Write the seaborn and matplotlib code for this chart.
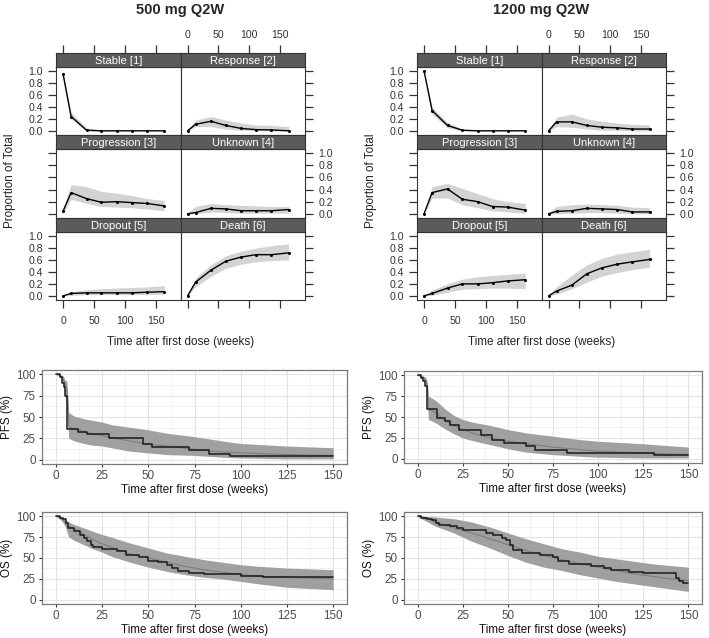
import numpy as np
import matplotlib
matplotlib.use("Agg")
import matplotlib.pyplot as plt
import seaborn as sns

# CONFIG
sns.set_theme(style="ticks")
plt.rcParams['font.family'] = ['Liberation Sans', 'DejaVu Sans']

W, H = 709, 638

# 1. STATE PROPORTIONS (lattice panels)
states = ["Stable [1]", "Response [2]", "Progression [3]",
          "Unknown [4]", "Dropout [5]", "Death [6]"]
weeks = [0, 13, 38, 62, 87, 111, 136, 164]

obs_500 = [
    [0.95, 0.24, 0.01, 0.0, 0.0, 0.0, 0.0, 0.0],
    [0.0, 0.11, 0.16, 0.09, 0.04, 0.02, 0.015, 0.0],
    [0.045, 0.35, 0.25, 0.19, 0.20, 0.185, 0.17, 0.13],
    [0.0, 0.02, 0.09, 0.08, 0.05, 0.05, 0.05, 0.07],
    [0.0, 0.04, 0.05, 0.05, 0.05, 0.05, 0.06, 0.07],
    [0.0, 0.23, 0.43, 0.58, 0.65, 0.69, 0.69, 0.72],
]
lo_500 = [
    [0.93, 0.20, 0.0, 0.0, 0.0, 0.0, 0.0, 0.0],
    [0.0, 0.07, 0.07, 0.03, 0.01, 0.0, 0.0, 0.0],
    [0.0, 0.24, 0.17, 0.12, 0.11, 0.10, 0.08, 0.05],
    [0.0, 0.0, 0.03, 0.02, 0.01, 0.01, 0.01, 0.01],
    [0.0, 0.01, 0.02, 0.02, 0.02, 0.02, 0.02, 0.03],
    [0.0, 0.15, 0.33, 0.46, 0.53, 0.57, 0.59, 0.60],
]
hi_500 = [
    [0.97, 0.31, 0.05, 0.01, 0.0, 0.0, 0.0, 0.0],
    [0.02, 0.18, 0.24, 0.18, 0.13, 0.10, 0.09, 0.07],
    [0.08, 0.48, 0.45, 0.37, 0.34, 0.30, 0.25, 0.22],
    [0.02, 0.12, 0.17, 0.15, 0.14, 0.13, 0.12, 0.12],
    [0.0, 0.07, 0.10, 0.12, 0.13, 0.14, 0.15, 0.17],
    [0.0, 0.30, 0.52, 0.67, 0.75, 0.80, 0.84, 0.87],
]

obs_1200 = [
    [1.0, 0.34, 0.09, 0.01, 0.0, 0.0, 0.0, 0.0],
    [0.0, 0.15, 0.15, 0.09, 0.06, 0.05, 0.03, 0.03],
    [0.0, 0.35, 0.41, 0.24, 0.20, 0.12, 0.11, 0.06],
    [0.0, 0.04, 0.05, 0.09, 0.08, 0.07, 0.03, 0.03],
    [0.0, 0.04, 0.13, 0.20, 0.20, 0.22, 0.25, 0.27],
    [0.0, 0.08, 0.18, 0.37, 0.47, 0.53, 0.57, 0.61],
]
lo_1200 = [
    [0.98, 0.28, 0.05, 0.0, 0.0, 0.0, 0.0, 0.0],
    [0.0, 0.07, 0.06, 0.03, 0.01, 0.01, 0.0, 0.0],
    [0.0, 0.26, 0.26, 0.15, 0.10, 0.05, 0.03, 0.01],
    [0.0, 0.0, 0.01, 0.02, 0.02, 0.01, 0.0, 0.0],
    [0.0, 0.01, 0.06, 0.11, 0.12, 0.13, 0.13, 0.12],
    [0.0, 0.03, 0.12, 0.23, 0.33, 0.39, 0.44, 0.48],
]
hi_1200 = [
    [1.0, 0.40, 0.14, 0.03, 0.01, 0.0, 0.0, 0.0],
    [0.02, 0.23, 0.28, 0.20, 0.16, 0.13, 0.11, 0.10],
    [0.03, 0.45, 0.50, 0.42, 0.33, 0.25, 0.20, 0.17],
    [0.02, 0.12, 0.15, 0.16, 0.15, 0.14, 0.11, 0.10],
    [0.0, 0.10, 0.20, 0.28, 0.32, 0.34, 0.36, 0.38],
    [0.0, 0.15, 0.35, 0.52, 0.63, 0.70, 0.74, 0.78],
]

# 2. KAPLAN-MEIER (observed + simulated band)
pfs500_t = [0, 2, 3.5, 4.5, 5, 6, 12, 17, 29, 47, 52, 72, 83, 94, 150]
pfs500_s = [100, 97, 90, 85, 75, 36, 33, 30, 26, 18, 15, 11, 7, 4, 4]
pfs500_bt = [0, 2, 4, 5, 6, 7, 10, 15, 20, 25, 30, 40, 50, 60, 75, 90, 100, 125, 150]
pfs500_hi = [100, 100, 98, 93, 92, 55, 51, 48, 46, 44, 41, 38, 35, 31, 27, 22, 19, 16, 14]
pfs500_lo = [100, 98, 90, 75, 60, 25, 22, 19, 17, 16, 14, 10, 8, 6, 5, 3, 2, 1, 1]
pfs500_md = [100, 99, 95, 88, 80, 38, 36, 33, 30, 28, 26, 22, 18, 16, 12, 9, 8, 6, 5]

pfs1200_t = [0, 2, 3, 4, 5.5, 11, 15, 18, 23, 35, 41, 48, 60, 65, 83, 131, 150]
pfs1200_s = [100, 97, 93, 87, 60, 49, 45, 40, 35, 28, 22, 19, 15, 11, 7.5, 4, 4]
pfs1200_bt = [0, 2, 4, 5, 5.5, 6, 10, 15, 20, 25, 30, 40, 50, 60, 75, 90, 100, 125, 150]
pfs1200_hi = [100, 100, 98, 95, 90, 75, 70, 60, 52, 47, 44, 40, 35, 31, 27, 23, 21, 18, 14]
pfs1200_lo = [100, 98, 92, 85, 70, 47, 43, 36, 30, 25, 22, 17, 12, 8, 5, 3, 2, 1, 1]
pfs1200_md = [100, 99, 96, 92, 85, 60, 55, 46, 40, 35, 31, 25, 21, 18, 14, 11, 9, 7, 5]

os500_t = [0, 2, 4, 5.5, 6.5, 10, 13, 15, 17, 19, 20, 25, 33, 38, 45, 50, 55, 60, 63, 66,
           72, 80, 100, 112, 150]
os500_s = [100, 98, 97, 92, 86, 82, 78, 74, 70, 66, 63, 61, 58, 53, 51, 47, 45, 42, 38, 35,
           32, 31, 29, 27, 27]
os500_bt = [0, 3, 5, 7, 10, 15, 20, 25, 30, 40, 50, 60, 70, 80, 90, 100, 110, 125, 150]
os500_hi = [100, 98, 96, 93, 90, 86, 82, 78, 75, 68, 62, 56, 52, 48, 45, 42, 40, 38, 36]
os500_lo = [100, 95, 88, 75, 71, 66, 61, 57, 52, 45, 39, 34, 30, 27, 25, 22, 19, 15, 12]
os500_md = [100, 97, 93, 88, 85, 78, 72, 67, 63, 55, 50, 45, 40, 36, 33, 30, 28, 27, 25]

os1200_t = [0, 2, 5, 8, 10, 12, 18, 22, 25, 35, 38, 42, 47, 49, 51, 53, 58, 68, 75, 78,
            84, 96, 103, 107, 117, 125, 143, 145, 147, 150]
os1200_s = [100, 98, 97, 95, 92, 90, 88, 86, 84, 83, 80, 77, 74, 72, 66, 59, 56, 53, 51, 47,
            43, 40, 38, 36, 33, 32, 26, 23, 20, 20]
os1200_bt = [0, 3, 10, 20, 30, 40, 50, 60, 70, 80, 90, 100, 110, 120, 130, 140, 150]
os1200_hi = [100, 100, 99, 97, 93, 87, 80, 73, 67, 61, 57, 52, 49, 46, 43, 41, 39]
os1200_lo = [100, 96, 88, 80, 70, 62, 53, 45, 39, 35, 30, 26, 22, 19, 16, 13, 10]
os1200_md = [100, 99, 93, 86, 80, 73, 66, 59, 53, 48, 43, 39, 35, 31, 28, 25, 23]

XLAB = "Time after first dose (weeks)"

fig = plt.figure(figsize=(W / 100, H / 100), dpi=100)


def px_ax(x0, y0, x1, y1):
    # axes placed in pixel coordinates, origin top-left
    return fig.add_axes([x0 / W, 1 - y1 / H, (x1 - x0) / W, (y1 - y0) / H])


def lattice(xl, obs, lo, hi, title):
    cw = 124.5
    rows = [(53, 67, 135), (135, 149, 218), (218, 232, 300)]
    for i, st in enumerate(states):
        r, c = i // 2, i % 2
        x0, x1 = xl + c * cw, xl + (c + 1) * cw
        s_top, p_top, p_bot = rows[r]
        ax = px_ax(x0, p_top, x1, p_bot)
        ax.fill_between(weeks, lo[i], hi[i], color="#d3d3d3", lw=0)
        sns.lineplot(x=weeks, y=obs[i], ax=ax, color="black", lw=1.0,
                     marker="o", markersize=2.2, markeredgewidth=0, legend=False)
        ax.set_xlim(-11.5, 190.5)
        ax.set_ylim(-0.07, 1.07)
        ax.set_xticks([0, 50, 100, 150])
        ax.set_yticks(np.round(np.arange(0, 1.01, 0.2), 1))
        ax.set_yticklabels([f"{v:.1f}" for v in np.arange(0, 1.01, 0.2)])
        for sp in ax.spines.values():
            sp.set_color("#333333")
            sp.set_linewidth(0.8)
            sp.set_visible(True)
        ax.tick_params(direction="out", length=5.5, width=0.9, color="#333333",
                       labelsize=7.6, labelcolor="#333333", pad=4)
        ax.tick_params(axis="x", bottom=(r == 2), labelbottom=(r == 2 and c == 0),
                       top=False, labeltop=False, pad=6)
        ax.tick_params(axis="y", left=(c == 0), labelleft=(c == 0 and r != 1),
                       right=(c == 1), labelright=(c == 1 and r == 1))
        ax.set_xlabel("")
        ax.set_ylabel("")

        sax = px_ax(x0, s_top, x1, p_top)
        sax.set_facecolor("#5b5b5b")
        sax.set_xlim(-11.5, 190.5)
        sax.set_xticks([0, 50, 100, 150])
        sax.set_yticks([])
        for sp in sax.spines.values():
            sp.set_color("#333333")
            sp.set_linewidth(0.8)
            sp.set_visible(True)
        sax.tick_params(axis="x", direction="out", length=5.5, width=0.9,
                        color="#333333", labelsize=7.6, labelcolor="#333333",
                        bottom=False, labelbottom=False,
                        top=(r == 0), labeltop=(r == 0 and c == 1), pad=4)
        sax.text(0.5, 0.45, st, transform=sax.transAxes, ha="center", va="center",
                 color="white", fontsize=8)

    mid = xl + cw
    fig.text(mid / W, 1 - 10 / H, title, ha="center", va="center",
             fontsize=10.5, fontweight="bold")
    fig.text((xl - 46) / W, 1 - 181 / H, "Proportion of Total", rotation=90,
             ha="center", va="center", fontsize=8.4, color="#222222")
    fig.text(mid / W, 1 - 342 / H, XLAB, ha="center", va="center",
             fontsize=8.4, color="#222222")


def km(box, t, s, bt, lo, hi, md, ylab):
    ax = px_ax(*box)
    ax.set_facecolor("white")
    ax.fill_between(bt, lo, hi, color="#a0a0a0", lw=0, zorder=2)
    sns.lineplot(x=bt, y=md, ax=ax, color="#7d7d7d", lw=0.8, legend=False, zorder=3)
    sns.lineplot(x=t, y=s, ax=ax, color="#1a1a1a", lw=1.1, drawstyle="steps-post",
                 legend=False, zorder=4)
    ax.set_xlim(-7.5, 157.5)
    ax.set_ylim(-5, 105)
    ax.set_xticks([0, 25, 50, 75, 100, 125, 150])
    ax.set_yticks([0, 25, 50, 75, 100])
    ax.set_xticks([12.5, 37.5, 62.5, 87.5, 112.5, 137.5], minor=True)
    ax.set_yticks([12.5, 37.5, 62.5, 87.5], minor=True)
    ax.grid(True, which="major", color="#e4e4e4", lw=0.8, zorder=0)
    ax.grid(True, which="minor", color="#efefef", lw=0.5, zorder=0)
    ax.set_axisbelow(True)
    for sp in ax.spines.values():
        sp.set_color("#7a7a7a")
        sp.set_linewidth(0.9)
        sp.set_visible(True)
    ax.tick_params(which="major", direction="out", length=2.5, width=0.8,
                   color="#333333", labelsize=8.4, labelcolor="#4d4d4d", pad=2)
    ax.tick_params(which="minor", length=0)
    ax.set_xlabel(XLAB, fontsize=8.4, labelpad=1, color="#111111")
    ax.set_ylabel(ylab, fontsize=8.4, labelpad=2, color="#111111")


lattice(56, obs_500, lo_500, hi_500, "500 mg Q2W")
lattice(417, obs_1200, lo_1200, hi_1200, "1200 mg Q2W")

km((42, 370, 347, 464), pfs500_t, pfs500_s, pfs500_bt, pfs500_lo, pfs500_hi, pfs500_md, "PFS (%)")
km((404, 371, 702, 463), pfs1200_t, pfs1200_s, pfs1200_bt, pfs1200_lo, pfs1200_hi, pfs1200_md, "PFS (%)")
km((42, 512, 347, 604), os500_t, os500_s, os500_bt, os500_lo, os500_hi, os500_md, "OS (%)")
km((404, 512, 702, 604), os1200_t, os1200_s, os1200_bt, os1200_lo, os1200_hi, os1200_md, "OS (%)")

fig.savefig("out.png", dpi=100)
